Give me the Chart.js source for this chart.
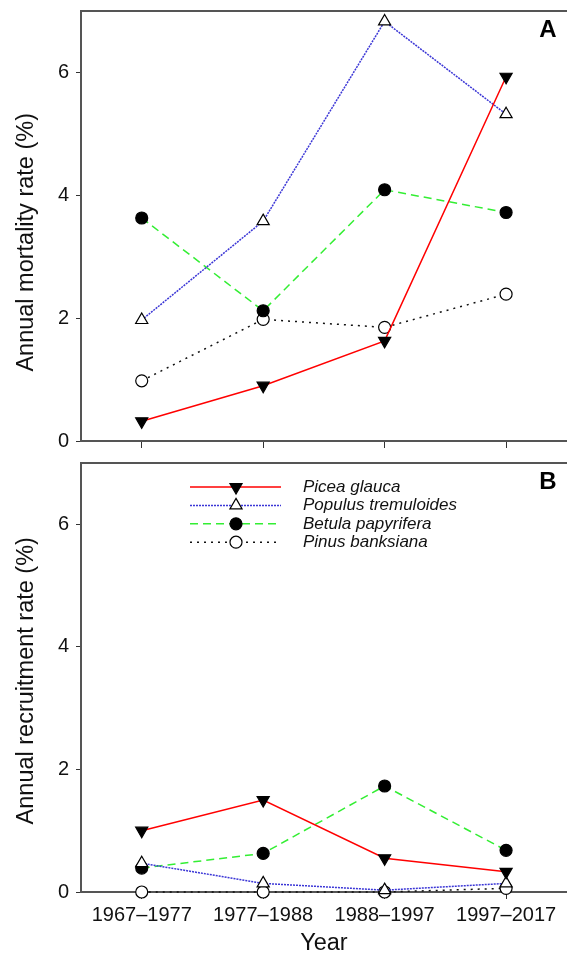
<!DOCTYPE html>
<html><head><meta charset="utf-8">
<script src="https://cdn.jsdelivr.net/npm/chart.js@4/dist/chart.umd.min.js"></script>
<style>
html,body{margin:0;padding:0;background:#fff;overflow:hidden;width:567px;height:955px;position:relative;}
#cA{position:absolute;left:0;top:0;}
#cB{position:absolute;left:0;top:452px;}
</style></head><body>
<canvas id="cA" width="575" height="452"></canvas>
<canvas id="cB" width="575" height="506"></canvas>
<script>
const periods = ['1967\u20131977','1977\u20131988','1988\u20131997','1997\u20132017'];
const species = ['Picea glauca','Populus tremuloides','Betula papyrifera','Pinus banksiana'];
const yTicks = [0, 2, 4, 6];

// Panel A: annual mortality rate (%)
const mortPicea   = [0.32, 0.90, 1.63, 5.93];
const mortPopulus = [1.97, 3.58, 6.83, 5.32];
const mortBetula  = [3.63, 2.12, 4.09, 3.72];
const mortPinus   = [0.98, 1.98, 1.85, 2.39];

// Panel B: annual recruitment rate (%)
const recPicea   = [1.00, 1.50, 0.55, 0.33];
const recPopulus = [0.47, 0.14, 0.03, 0.14];
const recBetula  = [0.39, 0.63, 1.73, 0.68];
const recPinus   = [0.00, 0.00, 0.00, 0.06];

const FONT = "'Liberation Sans', Arial, sans-serif";
const TXT = '#111';
const AXIS = '#555';

function makeDatasets(a, b, c, d) {
  const common = {borderWidth: 1.5, tension: 0, clip: false, pointBorderColor: '#000', pointBorderWidth: 1.2, pointHoverRadius: 6};
  return [
    Object.assign({label: species[0], data: a, borderColor: '#ff0000', pointStyle: 'triangle', pointRotation: 180, pointRadius: 7, pointBackgroundColor: '#000'}, common),
    Object.assign({label: species[1], data: b, borderColor: '#3b36d6', borderDash: [2, 1], pointStyle: 'triangle', pointRadius: 7, pointBackgroundColor: '#fff'}, common),
    Object.assign({label: species[2], data: c, borderColor: '#33ee33', borderDash: [8, 5], pointStyle: 'circle', pointRadius: 6, pointBackgroundColor: '#000'}, common),
    Object.assign({label: species[3], data: d, borderColor: '#111', borderDash: [2, 5], pointStyle: 'circle', pointRadius: 6, pointBackgroundColor: '#fff'}, common)
  ];
}

const framePlugin = {
  id: 'frameTop',
  beforeDatasetsDraw(chart) {
    const ctx = chart.ctx, a = chart.chartArea;
    ctx.save();
    ctx.strokeStyle = AXIS; ctx.lineWidth = 2;
    ctx.beginPath(); ctx.moveTo(a.left - 1, a.top); ctx.lineTo(chart.width, a.top); ctx.stroke();
    ctx.restore();
  }
};

function letterPlugin(letter) {
  return {
    id: 'letter' + letter,
    afterDraw(chart) {
      const ctx = chart.ctx;
      ctx.save();
      ctx.font = 'bold 24px ' + FONT;
      ctx.fillStyle = '#000'; ctx.textAlign = 'center'; ctx.textBaseline = 'middle';
      ctx.fillText(letter, 548, 30);
      ctx.restore();
    }
  };
}

const legendPlugin = {
  id: 'innerLegend',
  afterDatasetsDraw(chart) {
    const ctx = chart.ctx;
    chart.data.datasets.forEach((ds, i) => {
      const y = 35 + i * 18.4;
      ctx.save();
      ctx.strokeStyle = ds.borderColor; ctx.lineWidth = ds.borderWidth;
      ctx.setLineDash(ds.borderDash || []);
      ctx.beginPath(); ctx.moveTo(190, y); ctx.lineTo(281, y); ctx.stroke();
      ctx.setLineDash([]);
      ctx.fillStyle = ds.pointBackgroundColor; ctx.strokeStyle = ds.pointBorderColor;
      ctx.lineWidth = ds.pointBorderWidth;
      Chart.helpers.drawPoint(ctx, {pointStyle: ds.pointStyle, rotation: ds.pointRotation || 0, radius: ds.pointRadius, borderWidth: ds.pointBorderWidth}, 236, y);
      ctx.font = 'italic 17px ' + FONT; ctx.fillStyle = TXT;
      ctx.textAlign = 'left'; ctx.textBaseline = 'middle';
      ctx.fillText(ds.label, 303, y);
      ctx.restore();
    });
  }
};

function yScale(title) {
  return {
    type: 'linear', min: 0, max: 7,
    afterBuildTicks: s => { s.ticks = yTicks.map(v => ({value: v})); },
    afterFit: s => { s.width = 81; s.paddingTop = 0; s.paddingBottom = 0; },
    border: {display: true, color: AXIS, width: 2},
    grid: {drawOnChartArea: false, drawTicks: true, tickLength: 5, color: '#333'},
    ticks: {font: {family: FONT, size: 20}, color: TXT, padding: 7},
    title: {display: true, text: title, font: {family: FONT, size: 23.5}, color: TXT, padding: {top: 12, bottom: 0}}
  };
}

function xScale(showLabels, height) {
  return {
    type: 'category', labels: periods, offset: true,
    afterFit: s => { s.height = height; s.paddingLeft = 0; s.paddingRight = 0; },
    border: {display: true, color: AXIS, width: 2},
    grid: {drawOnChartArea: false, drawTicks: true, tickLength: 7, color: '#333', offset: false},
    ticks: {display: showLabels, font: {family: FONT, size: 20}, color: TXT, padding: 4, maxRotation: 0, autoSkip: false},
    title: {display: showLabels, text: 'Year', font: {family: FONT, size: 23.5}, color: TXT, padding: {top: 0, bottom: 0}}
  };
}

function baseOptions(yTitle, showX, xHeight) {
  return {
    responsive: false, animation: false,
    layout: {padding: {top: 11, right: 2, left: 0, bottom: 0}},
    plugins: {legend: {display: false}, tooltip: {enabled: false}},
    scales: {x: xScale(showX, xHeight), y: yScale(yTitle)}
  };
}

new Chart(document.getElementById('cA'), {
  type: 'line',
  data: {labels: periods, datasets: makeDatasets(mortPicea, mortPopulus, mortBetula, mortPinus)},
  options: baseOptions('Annual mortality rate (%)\u00a0\u00a0\u00a0\u00a0\u00a0', false, 11),
  plugins: [framePlugin, letterPlugin('A')]
});

new Chart(document.getElementById('cB'), {
  type: 'line',
  data: {labels: periods, datasets: makeDatasets(recPicea, recPopulus, recBetula, recPinus)},
  options: baseOptions('Annual recruitment rate (%)\u00a0', true, 66),
  plugins: [framePlugin, letterPlugin('B'), legendPlugin]
});
</script>
</body></html>
